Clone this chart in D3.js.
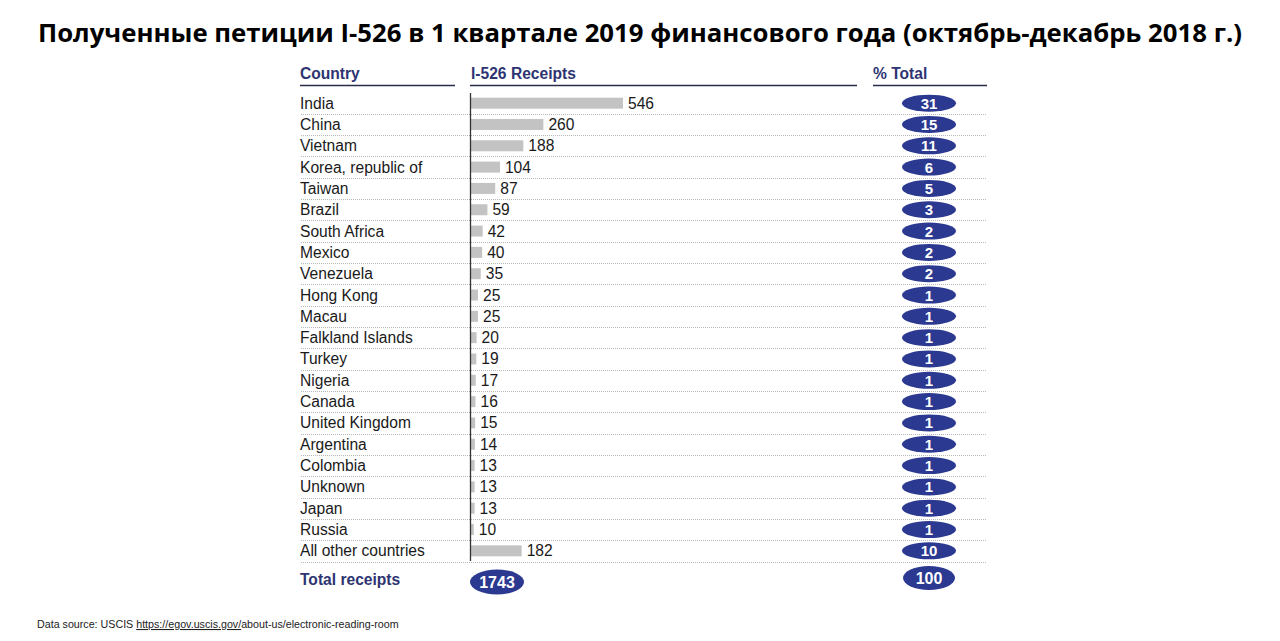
<!DOCTYPE html>
<html>
<head>
<meta charset="utf-8">
<script src="https://cdn.jsdelivr.net/npm/d3@7"></script>
<style>
  body { margin: 0; background: #fff; }
  text { font-family: "Liberation Sans", Arial, sans-serif; }
</style>
</head>
<body>
<div id="chart"></div>
<script>
const countries = ["India", "China", "Vietnam", "Korea, republic of", "Taiwan", "Brazil",
  "South Africa", "Mexico", "Venezuela", "Hong Kong", "Macau", "Falkland Islands", "Turkey",
  "Nigeria", "Canada", "United Kingdom", "Argentina", "Colombia", "Unknown", "Japan",
  "Russia", "All other countries"];
const receipts = [546, 260, 188, 104, 87, 59, 42, 40, 35, 25, 25, 20, 19, 17, 16, 15, 14, 13, 13, 13, 10, 182];
const pctTotal = [31, 15, 11, 6, 5, 3, 2, 2, 2, 1, 1, 1, 1, 1, 1, 1, 1, 1, 1, 1, 1, 10];
const totalReceipts = 1743;
const totalPct = 100;

const W = 1280, H = 641;
const navy = "#2b3990";
const headNavy = "#2e3472";

const svg = d3.select("#chart").append("svg")
  .attr("width", W).attr("height", H);

svg.append("text")
  .attr("x", W / 2).attr("y", 42)
  .attr("text-anchor", "middle")
  .style("font-family", "'Open Sans', sans-serif")
  .style("font-size", "25px")
  .style("font-weight", "bold")
  .attr("textLength", 1204)
  .attr("lengthAdjust", "spacingAndGlyphs")
  .text("Полученные петиции I-526 в 1 квартале 2019 финансового года (октябрь-декабрь 2018 г.)");

// row scale
const y = d3.scaleBand()
  .domain(countries)
  .range([92.5, 561.5]);

const x = d3.scaleLinear()
  .domain([0, 546])
  .range([471, 623]);

// headers
const headers = [
  { label: "Country", x: 300, x1: 300, x2: 455 },
  { label: "I-526 Receipts", x: 471, x1: 470, x2: 857 },
  { label: "% Total", x: 873, x1: 873, x2: 987 }
];
headers.forEach(h => {
  svg.append("text")
    .attr("x", h.x).attr("y", 79)
    .style("font-size", "15.6px").style("font-weight", "bold")
    .attr("fill", headNavy)
    .text(h.label);
  svg.append("line")
    .attr("x1", h.x1).attr("x2", h.x2)
    .attr("y1", 85.5).attr("y2", 85.5)
    .attr("stroke", "#2a2d4a").attr("stroke-width", 1.3);
});

// separators
svg.selectAll(".sep")
  .data(countries)
  .enter().append("line")
  .attr("x1", 301).attr("x2", 987)
  .attr("y1", d => Math.round(y(d) + y.bandwidth()) + 0.5)
  .attr("y2", d => Math.round(y(d) + y.bandwidth()) + 0.5)
  .attr("stroke", "#b8b8b8")
  .attr("stroke-width", 1)
  .attr("stroke-dasharray", "1,1");

// country labels
svg.selectAll(".country")
  .data(countries)
  .enter().append("text")
  .attr("x", 300)
  .attr("y", d => y(d) + y.bandwidth() / 2 + 5.5)
  .style("font-size", "15.6px")
  .attr("fill", "#1a1a1a")
  .text(d => d);

// bars
svg.selectAll(".bar")
  .data(countries)
  .enter().append("rect")
  .attr("x", x(0))
  .attr("y", d => y(d) + y.bandwidth() / 2 - 5.5)
  .attr("width", (d, i) => x(receipts[i]) - x(0))
  .attr("height", 11)
  .attr("fill", "#c3c3c3");

svg.selectAll(".val")
  .data(countries)
  .enter().append("text")
  .attr("x", (d, i) => x(receipts[i]) + 5)
  .attr("y", d => y(d) + y.bandwidth() / 2 + 5.5)
  .style("font-size", "15.6px")
  .attr("fill", "#1a1a1a")
  .text((d, i) => receipts[i]);

// axis line
svg.append("line")
  .attr("x1", 470.5).attr("x2", 470.5)
  .attr("y1", 93).attr("y2", 561)
  .attr("stroke", "#333").attr("stroke-width", 1.3);

// percent ellipses
svg.selectAll(".pct")
  .data(countries)
  .enter().append("ellipse")
  .attr("cx", 929)
  .attr("cy", d => y(d) + y.bandwidth() / 2)
  .attr("rx", 27).attr("ry", 8.5)
  .attr("fill", navy);

svg.selectAll(".pctText")
  .data(countries)
  .enter().append("text")
  .attr("x", 929)
  .attr("y", d => y(d) + y.bandwidth() / 2 + 5.5)
  .attr("text-anchor", "middle")
  .style("font-size", "15px").style("font-weight", "bold")
  .attr("fill", "#fff")
  .text((d, i) => pctTotal[i]);

// totals
svg.append("text")
  .attr("x", 300).attr("y", 585)
  .style("font-size", "15.6px").style("font-weight", "bold")
  .attr("fill", headNavy)
  .text("Total receipts");

svg.append("ellipse")
  .attr("cx", 497).attr("cy", 582)
  .attr("rx", 27).attr("ry", 12.5)
  .attr("fill", navy);
svg.append("text")
  .attr("x", 497).attr("y", 588)
  .attr("text-anchor", "middle")
  .style("font-size", "16px").style("font-weight", "bold")
  .attr("fill", "#fff")
  .text(totalReceipts);

svg.append("ellipse")
  .attr("cx", 929).attr("cy", 578)
  .attr("rx", 26).attr("ry", 12)
  .attr("fill", navy);
svg.append("text")
  .attr("x", 929).attr("y", 584)
  .attr("text-anchor", "middle")
  .style("font-size", "16px").style("font-weight", "bold")
  .attr("fill", "#fff")
  .text(totalPct);

// source
const src = svg.append("text")
  .attr("x", 37).attr("y", 628)
  .style("font-size", "10.7px")
  .attr("fill", "#222");
src.append("tspan").text("Data source: USCIS ");
src.append("tspan").attr("text-decoration", "underline").text("https://egov.uscis.gov/");
src.append("tspan").text("about-us/electronic-reading-room");
</script>
</body>
</html>
